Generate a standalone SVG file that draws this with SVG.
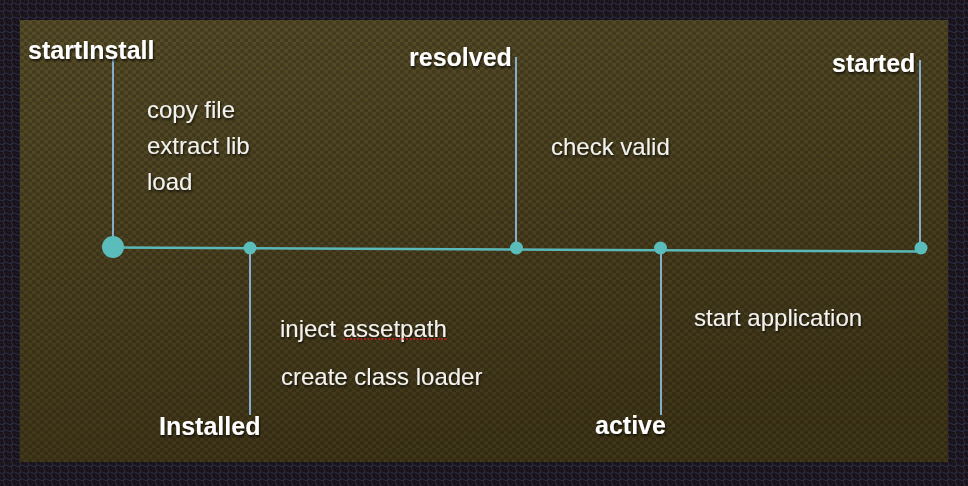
<svg xmlns="http://www.w3.org/2000/svg" width="968" height="486" viewBox="0 0 968 486">
<defs>
<pattern id="hexOuter" width="8" height="7" patternUnits="userSpaceOnUse">
<rect width="8" height="7" fill="#1a1219"/>
<circle cx="2" cy="2" r="2.6" fill="none" stroke="#2a2e44" stroke-width="1"/>
<circle cx="6" cy="5.5" r="2.6" fill="none" stroke="#2a2e44" stroke-width="1"/>
</pattern>
<linearGradient id="panelGrad" x1="0" y1="0" x2="0.3" y2="1">
<stop offset="0" stop-color="#574d28"/>
<stop offset="1" stop-color="#403618"/>
</linearGradient>
<pattern id="hexInner" width="8" height="7" patternUnits="userSpaceOnUse">
<circle cx="2" cy="2" r="2.3" fill="#000" fill-opacity="0.2"/>
<circle cx="6" cy="5.5" r="2.3" fill="#000" fill-opacity="0.2"/>
</pattern>
<filter id="shadow" x="-10%" y="-30%" width="120%" height="160%">
<feGaussianBlur in="SourceAlpha" stdDeviation="1.2"/>
<feOffset dx="1" dy="2" result="b"/>
<feComponentTransfer><feFuncA type="linear" slope="0.7"/></feComponentTransfer>
<feMerge><feMergeNode/><feMergeNode in="SourceGraphic"/></feMerge>
</filter>
</defs>
<style>
.label{font-family:"Liberation Sans",Arial,Helvetica,sans-serif;font-weight:bold;font-size:25px;fill:#ffffff}
.note{font-family:"Liberation Sans",Arial,Helvetica,sans-serif;font-size:24px;fill:#f2f2ee}
.vline{stroke:#86aecb;stroke-width:2;fill:none}
.hline{stroke:#5bb8b8;stroke-width:2.5;fill:none}
.dot{fill:#5bbcbc}
</style>
<rect width="968" height="486" fill="url(#hexOuter)"/>
<rect x="20" y="20" width="928" height="442" fill="url(#panelGrad)"/>
<rect x="20" y="20" width="928" height="442" fill="url(#hexInner)"/>

<g id="connectors">
<line class="hline" x1="113" y1="247.5" x2="921" y2="251.5"/>
<line class="vline" x1="113" y1="59" x2="113" y2="247"/>
<line class="vline" x1="250" y1="248" x2="250" y2="415"/>
<line class="vline" x1="516" y1="57" x2="516" y2="248"/>
<line class="vline" x1="661" y1="248" x2="661" y2="415"/>
<line class="vline" x1="920" y1="60" x2="920" y2="248"/>
</g>

<g id="startInstall">
<circle class="dot" cx="113" cy="247" r="11"/>
<text class="label" x="28" y="59" filter="url(#shadow)">startInstall</text>
</g>
<g id="installed">
<circle class="dot" cx="250" cy="248" r="6.5"/>
<text class="label" x="159" y="435" filter="url(#shadow)">Installed</text>
</g>
<g id="resolved">
<circle class="dot" cx="516.5" cy="248" r="6.5"/>
<text class="label" x="409" y="66" filter="url(#shadow)">resolved</text>
</g>
<g id="active">
<circle class="dot" cx="660.5" cy="248" r="6.5"/>
<text class="label" x="595" y="434" filter="url(#shadow)">active</text>
</g>
<g id="started">
<circle class="dot" cx="921" cy="248" r="6.5"/>
<text class="label" x="832" y="72" filter="url(#shadow)">started</text>
</g>

<g id="notes" filter="url(#shadow)">
<text class="note" x="147" y="118">copy file</text>
<text class="note" x="147" y="154">extract lib</text>
<text class="note" x="147" y="190">load</text>
<text class="note" x="551" y="155">check valid</text>
<text class="note" x="280" y="337">inject assetpath</text>
<text class="note" x="281" y="385">create class loader</text>
<text class="note" x="694" y="326">start application</text>
</g>
<line x1="343" y1="339" x2="447" y2="339" stroke="#d02020" stroke-width="1.5" stroke-dasharray="2,1.5"/>
</svg>
